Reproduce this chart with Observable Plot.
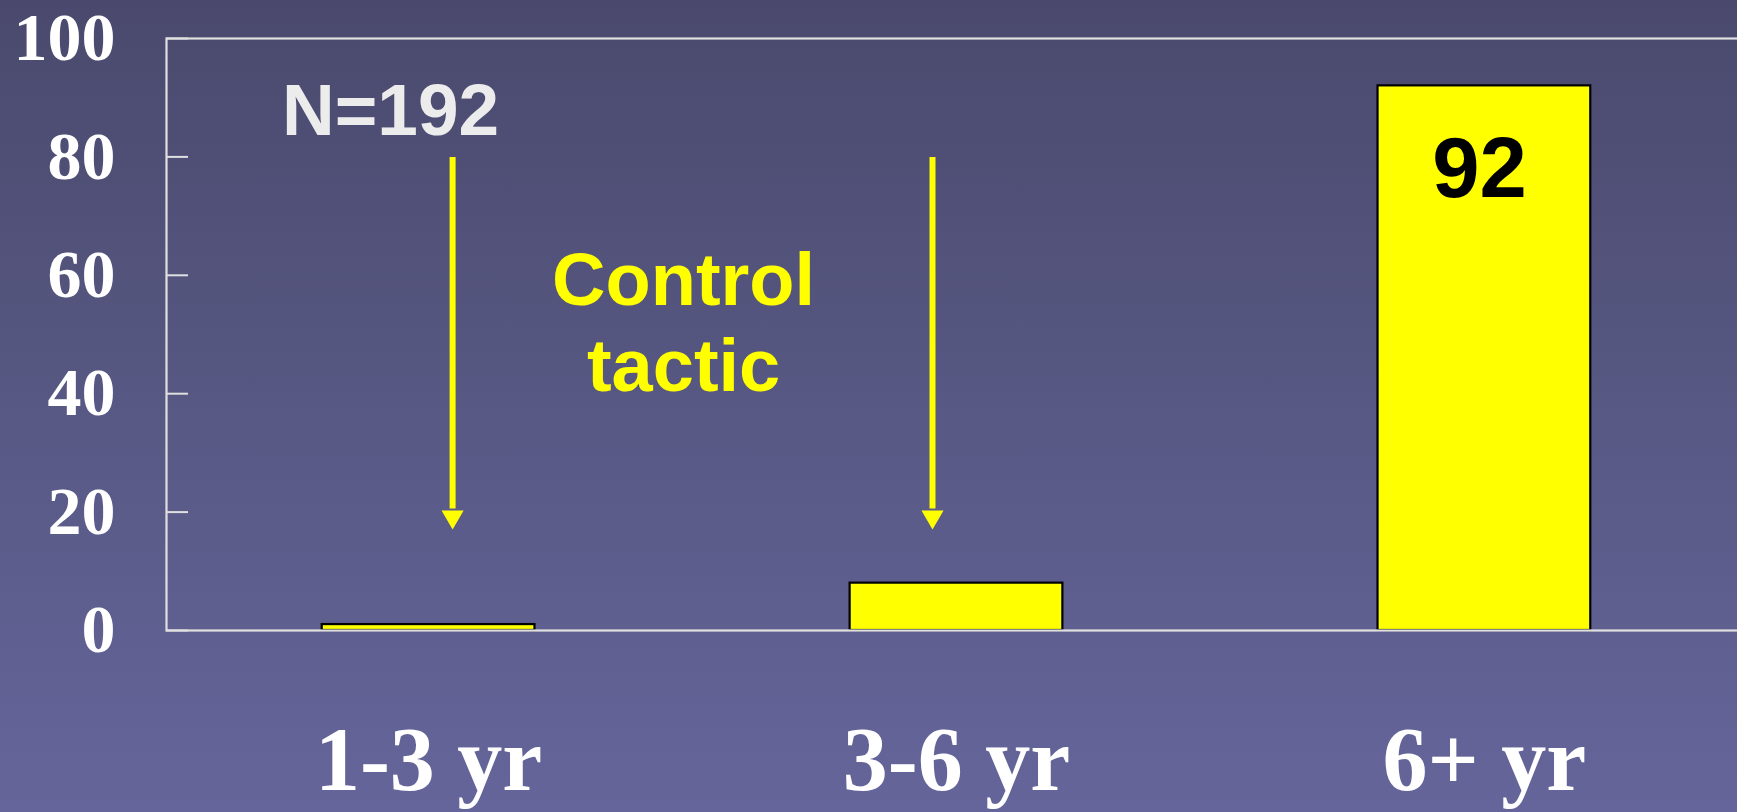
<!DOCTYPE html>
<html>
<head>
<meta charset="utf-8">
<script src="https://cdn.jsdelivr.net/npm/d3@7"></script>
<script src="https://cdn.jsdelivr.net/npm/@observablehq/plot@0.6"></script>
<style>
  html, body { margin: 0; padding: 0; overflow: hidden; }
  body { width: 1737px; height: 812px; background: linear-gradient(to bottom, #4a496d 0%, #575883 50%, #65659b 100%); }
  #chart svg { display: block; }
</style>
</head>
<body>
<div id="chart"></div>
<script>
const categories = ["1-3 yr", "3-6 yr", "6+ yr"];
const values = [1, 8, 92];
const yTicks = [0, 20, 40, 60, 80, 100];
const arrowCategories = ["1-3 yr", "3-6 yr"];
const arrowOffsets = [24, -24];
const arrowTop = 80;
const arrowShaftEnd = 20.6;
const arrowHead = 19.2;
const nLabel = "N=192";
const annotationLabel = "Control\ntactic";
const highlightLabel = "92";

const bars = categories.map((c, i) => ({category: c, value: values[i]}));
const arrows = arrowCategories.map((c, i) => ({category: c, dx: arrowOffsets[i]}));

const serif = "'Liberation Serif', 'Times New Roman', serif";
const sans = "'Liberation Sans', Arial, sans-serif";

const chart = Plot.plot({
  width: 1737,
  height: 812,
  marginLeft: 166,
  marginRight: -9,
  marginTop: 38,
  marginBottom: 182,
  style: {background: "transparent", color: "white", fontFamily: serif, overflow: "visible"},
  x: {type: "band", domain: categories, range: [166, 1746], paddingInner: 0.597, paddingOuter: 0.295, round: false},
  y: {domain: [0, 100], range: [630, 38]},
  marks: [
    Plot.barY(bars, {x: "category", y: "value", fill: "#ffff00", stroke: "black", strokeWidth: 2.2}),
    Plot.ruleY(yTicks, {y: d => d, stroke: "#e0e0e0", strokeWidth: 2, insetRight: 1558}),
    Plot.frame({stroke: "#e0e0e0", strokeWidth: 2.2}),
    Plot.axisY({ticks: yTicks, tickSize: 0, tickPadding: 51, fontSize: 68, fontWeight: "bold", fill: "white", fontFamily: serif, label: null}),
    Plot.axisX({tickSize: 0, tickPadding: 96, fontSize: 90, fontWeight: "bold", fill: "white", fontFamily: serif, label: null}),
    ...arrows.map(a => Plot.link([a], {x1: "category", x2: "category", y1: () => arrowTop, y2: () => arrowShaftEnd, dx: a.dx, stroke: "#ffff00", strokeWidth: 6})),
    ...arrows.map(a => Plot.dot([a], {x: "category", y: () => arrowHead, dx: a.dx, symbol: "triangle", rotate: 180, r: 8.2, fill: "#ffff00", stroke: "none"})),
    Plot.text([nLabel], {x: () => categories[0], y: () => 87.7, dx: -38, text: d => d, fontSize: 73, fontWeight: "bold", fill: "#ececec", fontFamily: sans}),
    Plot.text([annotationLabel], {x: () => categories[0], y: () => 52.4, dx: 255, text: d => d, fontSize: 74, lineHeight: 1.16, fontWeight: "bold", fill: "#ffff00", fontFamily: sans}),
    Plot.text([highlightLabel], {x: () => categories[2], y: () => 77.9, dx: -5, text: d => d, fontSize: 85, fontWeight: "bold", fill: "black", fontFamily: sans})
  ]
});
document.getElementById("chart").appendChild(chart);
</script>
</body>
</html>
